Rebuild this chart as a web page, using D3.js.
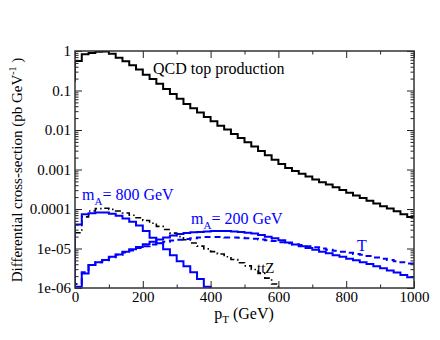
<!DOCTYPE html>
<html><head><meta charset="utf-8">
<script src="https://cdn.jsdelivr.net/npm/d3@7"></script>
<style>body{margin:0;background:#fff} svg text{font-family:"Liberation Serif","Times New Roman","DejaVu Serif",serif !important;}</style>
</head><body>
<svg id="chart" width="440" height="340"></svg>
<script>
// ---- data (log10 of differential cross-section, 20 GeV bins from 0 to 1000) ----
const binEdges = d3.range(0, 1001, 20);
const qcdLog = [-0.25,-0.08,-0.05,-0.02,-0.01,-0.07,-0.17,-0.26,-0.36,-0.47,
  -0.60,-0.71,-0.83,-0.96,-1.09,-1.21,-1.34,-1.45,-1.56,-1.67,
  -1.78,-1.89,-1.99,-2.10,-2.20,-2.31,-2.42,-2.53,-2.64,-2.75,
  -2.86,-2.96,-3.04,-3.11,-3.18,-3.25,-3.32,-3.38,-3.45,-3.52,
  -3.59,-3.66,-3.72,-3.79,-3.86,-3.93,-3.99,-4.06,-4.13,-4.20];
const qcdStart = -0.77;
const mA800Log = [-4.39,-4.13,-4.11,-4.09,-4.09,-4.12,-4.17,-4.24,-4.32,-4.42,
  -4.56,-4.73,-4.87,-5.02,-5.17,-5.32,-5.45,-5.60,-5.77,-5.97,
  -6.2,-6.4,-6.6,-6.8,-7,-7,-7,-7,-7,-7,-7,-7,-7,-7,-7,-7,-7,-7,-7,-7,
  -7,-7,-7,-7,-7,-7,-7,-7,-7,-7];
const mA200Log = [-5.97,-5.63,-5.42,-5.35,-5.29,-5.21,-5.15,-5.08,-5.02,-4.96,
  -4.89,-4.83,-4.77,-4.72,-4.67,-4.63,-4.61,-4.59,-4.58,-4.57,
  -4.56,-4.56,-4.56,-4.57,-4.58,-4.60,-4.62,-4.66,-4.70,-4.74,
  -4.79,-4.85,-4.90,-4.94,-4.99,-5.03,-5.08,-5.12,-5.17,-5.21,
  -5.26,-5.30,-5.35,-5.39,-5.45,-5.50,-5.56,-5.61,-5.67,-5.73];
const tLog = [-5.90,-5.60,-5.42,-5.35,-5.30,-5.22,-5.16,-5.10,-5.05,-4.99,
  -4.94,-4.90,-4.86,-4.83,-4.80,-4.78,-4.76,-4.74,-4.72,-4.71,
  -4.71,-4.71,-4.72,-4.72,-4.73,-4.74,-4.75,-4.77,-4.79,-4.81,
  -4.84,-4.87,-4.89,-4.91,-4.94,-4.97,-5.00,-5.03,-5.06,-5.08,
  -5.11,-5.14,-5.16,-5.19,-5.23,-5.26,-5.29,-5.32,-5.35,-5.38];
const ttzLog = [-4.60,-4.20,-4.05,-3.99,-3.98,-4.01,-4.05,-4.10,-4.16,-4.22,
  -4.29,-4.36,-4.44,-4.52,-4.61,-4.70,-4.78,-4.86,-4.94,-5.01,
  -5.08,-5.14,-5.21,-5.28,-5.36,-5.44,-5.53,-5.63,-5.75,-5.90,
  -6.05,-6.2,-6.4,-6.6,-6.8,-7,-7,-7,-7,-7,-7,-7,-7,-7,-7,-7,-7,-7,-7,-7];
const xTicks = [0, 200, 400, 600, 800, 1000];
const xMinorTicks = [100, 300, 500, 700, 900];
const yTicks = [1, 0.1, 0.01, 0.001, 0.0001, 1e-5, 1e-6];
const yTickLabels = ["1", "0.1", "0.01", "0.001", "0.0001", "1e-05", "1e-06"];

// ---- layout ----
const L = 75, R = 414, T = 51, B = 288;
const svg = d3.select("#chart");
const x = d3.scaleLinear().domain([0, 1000]).range([L, R]);
const y = d3.scaleLog().domain([1e-6, 1]).range([B, T]);

svg.append("clipPath").attr("id", "clip").append("rect")
  .attr("x", L).attr("y", T).attr("width", R - L).attr("height", B - T);

function stepPoints(logs, startLog) {
  const pts = [[0, Math.pow(10, startLog)]];
  logs.forEach((lv, i) => {
    const v = Math.pow(10, lv);
    pts.push([binEdges[i], v]);
    pts.push([binEdges[i + 1], v]);
  });
  return pts;
}
const line = d3.line().x(d => x(d[0])).y(d => y(d[1]));
const g = svg.append("g").attr("clip-path", "url(#clip)");
const series = [
  {logs: ttzLog, start: -7, color: "#000", dash: "6,3,1.5,3", w: 1.6},
  {logs: tLog, start: -7, color: "#0000ff", dash: "6,4", w: 2},
  {logs: mA200Log, start: -7, color: "#0000ff", dash: null, w: 2},
  {logs: mA800Log, start: -7, color: "#0000ff", dash: null, w: 2},
  {logs: qcdLog, start: qcdStart, color: "#000", dash: null, w: 2}
];
series.forEach(s => {
  g.append("path").attr("d", line(stepPoints(s.logs, s.start)))
    .attr("fill", "none").attr("stroke", s.color).attr("stroke-width", s.w)
    .attr("stroke-dasharray", s.dash);
});

// ---- axes ----
const minorY = [];
for (let e = -6; e < 0; e++) for (let k = 2; k <= 9; k++) minorY.push(k * Math.pow(10, e));

const axL = svg.append("g").attr("transform", `translate(${L},0)`)
  .call(d3.axisLeft(y).tickValues(yTicks).tickFormat((d, i) => yTickLabels[i]).tickSizeInner(-7).tickSizeOuter(0).tickPadding(4));
const axLm = svg.append("g").attr("transform", `translate(${L},0)`)
  .call(d3.axisLeft(y).tickValues(minorY).tickFormat("").tickSizeInner(-3.5).tickSizeOuter(0));
const axR = svg.append("g").attr("transform", `translate(${R},0)`)
  .call(d3.axisRight(y).tickValues(yTicks).tickFormat("").tickSizeInner(-7).tickSizeOuter(0));
const axRm = svg.append("g").attr("transform", `translate(${R},0)`)
  .call(d3.axisRight(y).tickValues(minorY).tickFormat("").tickSizeInner(-3.5).tickSizeOuter(0));
const axB = svg.append("g").attr("transform", `translate(0,${B})`)
  .call(d3.axisBottom(x).tickValues(xTicks).tickFormat(d3.format("d")).tickSizeInner(-7).tickSizeOuter(0).tickPadding(3));
const axBm = svg.append("g").attr("transform", `translate(0,${B})`)
  .call(d3.axisBottom(x).tickValues(xMinorTicks).tickFormat("").tickSizeInner(-3.5).tickSizeOuter(0));
const axT = svg.append("g").attr("transform", `translate(0,${T})`)
  .call(d3.axisTop(x).tickValues(xTicks).tickFormat("").tickSizeInner(-7).tickSizeOuter(0));
const axTm = svg.append("g").attr("transform", `translate(0,${T})`)
  .call(d3.axisTop(x).tickValues(xMinorTicks).tickFormat("").tickSizeInner(-3.5).tickSizeOuter(0));
[axL, axLm, axR, axRm, axB, axBm, axT, axTm].forEach(a => {
  a.attr("font-family", null);
  a.select(".domain").remove();
  a.selectAll("line").attr("stroke", "#222").attr("stroke-width", 1);
  a.selectAll("text").attr("font-size", 15).attr("fill", "#000");
});
axB.selectAll("text").attr("dy", "0.75em");

svg.append("rect").attr("x", L).attr("y", T).attr("width", R - L).attr("height", B - T)
  .attr("fill", "none").attr("stroke", "#333").attr("stroke-width", 1.5);

// ---- labels ----
svg.append("text").attr("x", 153).attr("y", 74).attr("font-size", 16)
  .text("QCD top production");

function massLabel(xp, yp, mass) {
  const t = svg.append("text").attr("x", xp).attr("y", yp)
    .attr("font-size", 16).attr("fill", "#0000ff");
  t.append("tspan").text("m");
  t.append("tspan").attr("font-size", 11).attr("dy", 5).text("A");
  t.append("tspan").attr("dy", -5).text("= " + mass + " GeV");
}
massLabel(82, 200, 800);
massLabel(191, 224, 200);
svg.append("text").attr("x", 357).attr("y", 251).attr("font-size", 16)
  .attr("fill", "#0000ff").text("T");
svg.append("text").attr("x", 257).attr("y", 273).attr("font-size", 15)
  .attr("fill", "#000").text("ttZ");

const xl = svg.append("text").attr("x", 244).attr("y", 319).attr("text-anchor", "middle")
  .attr("font-size", 16);
xl.append("tspan").text("p");
xl.append("tspan").attr("font-size", 11).attr("dy", 4).text("T");
xl.append("tspan").attr("dy", -4).text(" (GeV)");

const yl = svg.append("text").attr("transform", "translate(22,170) rotate(-90)")
  .attr("text-anchor", "middle").attr("font-size", 15);
yl.append("tspan").text("Differential cross-section (pb GeV");
yl.append("tspan").attr("font-size", 10).attr("dy", -6).text("-1");
yl.append("tspan").attr("dy", 6).text(" )");
</script>
</body></html>
